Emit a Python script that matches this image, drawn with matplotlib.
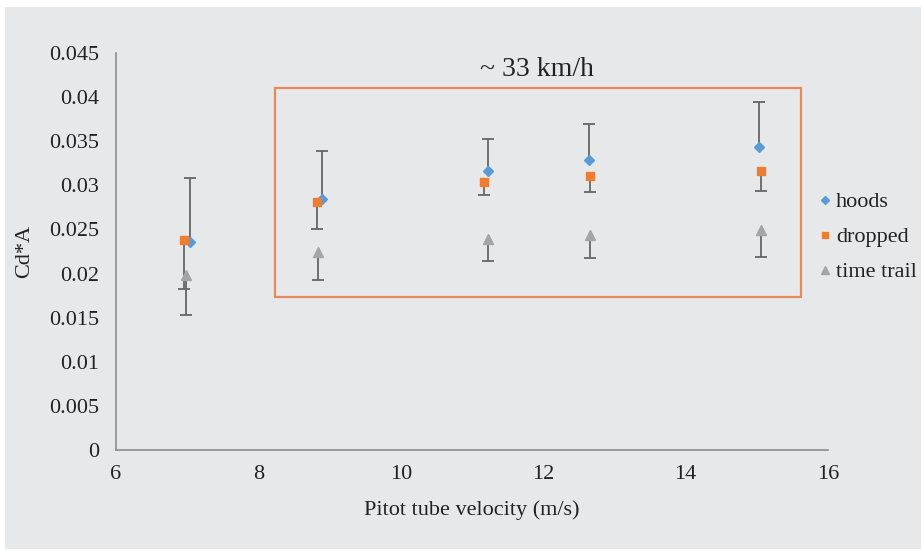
import matplotlib
matplotlib.use('Agg')
import matplotlib.pyplot as plt
from matplotlib.patches import Rectangle
from matplotlib.lines import Line2D

plt.rcParams['font.family'] = ['Liberation Serif', 'DejaVu Serif']

# ── data ───────────────────────────────────────────────────────────────────
hoods_x   = [7.04, 8.89, 11.22, 12.64, 15.03]
hoods_y   = [0.0236, 0.0285, 0.0316, 0.0329, 0.0343]
hoods_up  = [0.0072, 0.0054, 0.0037, 0.0041, 0.0051]

dropped_x  = [6.95, 8.82, 11.17, 12.66, 15.06]
dropped_y  = [0.0238, 0.0281, 0.0304, 0.0311, 0.0316]
dropped_dn = [0.0055, 0.0030, 0.0015, 0.0019, 0.0022]

tt_x  = [6.98, 8.84, 11.22, 12.66, 15.06]
tt_y  = [0.0198, 0.0224, 0.0239, 0.0244, 0.0249]
tt_dn = [0.0045, 0.0031, 0.0025, 0.0026, 0.0030]

x_ticks = [6, 8, 10, 12, 14, 16]
y_ticks = [0, 0.005, 0.01, 0.015, 0.02, 0.025, 0.03, 0.035, 0.04, 0.045]
y_tick_labels = ['0', '0.005', '0.01', '0.015', '0.02', '0.025',
                 '0.03', '0.035', '0.04', '0.045']

BLUE, ORANGE, GREY = '#5B9BD5', '#ED7D31', '#A5A5A5'
BG = '#e7e8ea'
TXT = '#222222'

fig = plt.figure(figsize=(9.21, 5.51), dpi=100, facecolor='white')
# grey chart area with thin white border at top/left
fig.patches.append(Rectangle((5 / 921, 2 / 551), 916 / 921, 542 / 551,
                             transform=fig.transFigure, facecolor=BG,
                             edgecolor='none', zorder=-10))
ax = fig.add_axes([116 / 921, 101 / 551, 712 / 921, 397 / 551])
ax.set_facecolor('none')

err_kw = dict(fmt='none', ecolor='#666666', elinewidth=1.3, capsize=4,
              capthick=1.3, zorder=2)


def one_sided(x, y, err, upper):
    # excel-style one-direction error bar: hide the cap at the marker end
    zeros = [0] * len(err)
    yerr = [zeros, err] if upper else [err, zeros]
    _, caps, _ = ax.errorbar(x, y, yerr=yerr, **err_kw)
    caps[0 if upper else 1].set_visible(False)
    for c in caps:
        c.set_color('#3a3a3a')


one_sided(hoods_x, hoods_y, hoods_up, upper=True)
one_sided(dropped_x, dropped_y, dropped_dn, upper=False)
one_sided(tt_x, tt_y, tt_dn, upper=False)

ax.plot(hoods_x, hoods_y, 'D', color=BLUE, markersize=5, zorder=3)
ax.plot(dropped_x, dropped_y, 's', color=ORANGE, markersize=6, zorder=3)
ax.plot(tt_x, tt_y, '^', color=GREY, markersize=7, zorder=3)

# highlight box around the ~33 km/h runs
ax.add_patch(Rectangle((8.23, 0.01734), 15.62 - 8.23, 0.0410 - 0.01734,
                       fill=False, edgecolor='#E8895A', linewidth=1.6,
                       clip_on=False))
ax.text(11.91, 0.0424, '~ 33 km/h', fontsize=20, ha='center',
        va='baseline', color=TXT)

ax.set_xlim(6, 16)
ax.set_ylim(0, 0.045)
ax.set_xticks(x_ticks)
ax.set_yticks(y_ticks)
ax.set_yticklabels(y_tick_labels)
ax.tick_params(length=0, labelsize=16, colors=TXT)
ax.tick_params(axis='y', pad=12)
ax.tick_params(axis='x', pad=11)
for s in ['top', 'right']:
    ax.spines[s].set_visible(False)
for s in ['left', 'bottom']:
    ax.spines[s].set_color('#8c8c8c')
    ax.spines[s].set_linewidth(1.2)

ax.set_xlabel('Pitot tube velocity (m/s)', fontsize=16, color=TXT)
ax.xaxis.set_label_coords(0.5, -0.151)
ax.xaxis.label.set_va('center')
ax.set_ylabel('Cd*A', fontsize=16, color=TXT)
ax.yaxis.set_label_coords(-0.128, 0.5)
ax.yaxis.label.set_va('center')

handles = [Line2D([], [], marker='D', color=BLUE, linestyle='none', markersize=4),
           Line2D([], [], marker='s', color=ORANGE, linestyle='none', markersize=5),
           Line2D([], [], marker='^', color=GREY, linestyle='none', markersize=5.5)]
leg = ax.legend(handles, ['hoods', 'dropped', 'time trail'],
                loc='center left', bbox_to_anchor=(817 / 921, 314 / 551),
                bbox_transform=fig.transFigure, frameon=False, fontsize=16,
                handlelength=0.7, handletextpad=0.15, borderpad=0,
                borderaxespad=0, labelspacing=0.65)
for t in leg.get_texts():
    t.set_color(TXT)

plt.savefig('out.png', dpi=100, facecolor=fig.get_facecolor())
plt.close()
